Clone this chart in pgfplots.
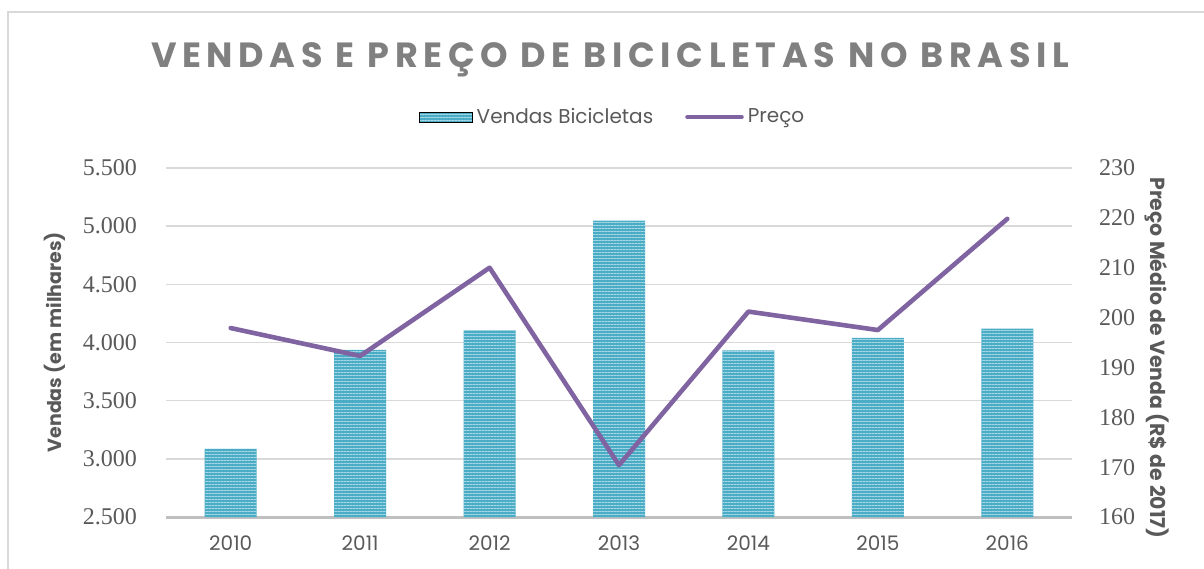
\documentclass[border=0pt]{standalone}
\usepackage{pgfplots}
\pgfplotsset{compat=1.18}
\usepackage{pgfplotstable}
\usepackage{fontspec}
\setmainfont{Poppins}
\newfontfamily\tickfont{Liberation Serif}
\newfontfamily\titlefont{Poppins}[LetterSpace=16]
\usetikzlibrary{patterns.meta}
\definecolor{barblue}{HTML}{4BACC6}
\definecolor{barlight}{HTML}{A8D8E6}
\definecolor{linepurple}{HTML}{8064A2}
\definecolor{txtgray}{HTML}{595959}
\definecolor{titlegray}{HTML}{808080}
\definecolor{gridgray}{HTML}{D9D9D9}
\definecolor{axisgray}{HTML}{BFBFBF}

\pgfplotstableread{
x vendas preco
0 3085 197.9
1 3936 192.3
2 4105 210.0
3 5047 170.4
4 3933 201.2
5 4039 197.5
6 4119 219.8
}\datatable

\begin{document}
\begin{tikzpicture}
\useasboundingbox (-83pt,-25.5pt) rectangle (519pt,258.5pt);
\draw[gridgray, line width=0.8pt] (-79pt,-40pt) -- (-79pt,252.5pt) -- (540pt,252.5pt);
\node[font=\titlefont\bfseries\fontsize{17.5}{20}\selectfont, text=titlegray] at (222pt,228.5pt) {VENDAS E PREÇO DE BICICLETAS NO BRASIL};
\begin{axis}[
  name=ax,
  at={(0,0)}, anchor=south west,
  scale only axis, width=453pt, height=174.5pt,
  xmin=-0.5, xmax=6.5, ymin=2500, ymax=5500,
  ytick={2500,3000,...,5500},
  xtick={0,...,6}, xticklabels={2010,2011,2012,2013,2014,2015,2016},
  axis line style={draw=none},
  tick style={draw=none},
  ymajorgrids,
  grid style={gridgray, line width=0.8pt},
  extra y ticks={2500}, extra y tick labels={},
  extra y tick style={grid style={axisgray, line width=1.5pt}},
  yticklabel style={font=\tickfont\fontsize{12}{14}\selectfont, text=txtgray, xshift=-11pt},
  xticklabel style={font=\fontsize{10}{12}\selectfont, text=txtgray, yshift=-6pt},
  /pgf/number format/1000 sep={.},
  /pgf/number format/assume math mode=true,
  ylabel={Vendas (em milhares)},
  every axis y label/.style={at={(axis description cs:-0.1225,0.501)}, rotate=90, anchor=center, font=\bfseries\fontsize{9.5}{11}\selectfont, text=txtgray},
]
\addplot[ybar, bar width=26pt, fill=barblue, draw=none,
  postaction={pattern={Lines[angle=0,distance=1.5pt,line width=0.5pt]}, pattern color=barlight}]
  table[x=x,y=vendas]{\datatable};
\end{axis}
\begin{axis}[
  at={(0,0)}, anchor=south west,
  scale only axis, width=453pt, height=174.5pt,
  xmin=-0.5, xmax=6.5, ymin=160, ymax=230,
  ytick={160,170,...,230},
  hide x axis,
  axis y line*=right,
  axis line style={draw=none},
  tick style={draw=none},
  yticklabel style={font=\tickfont\fontsize{12}{14}\selectfont, text=txtgray, xshift=10pt},
  /pgf/number format/assume math mode=true,
  ylabel={Preço Médio de Venda (R\$ de 2017)},
  every axis y label/.style={at={(axis description cs:1.0938,0.4556)}, rotate=-90, anchor=center, font=\bfseries\fontsize{10.2}{12}\selectfont, text=txtgray},
  legend style={at={(axis description cs:0.494,1.146)}, anchor=center, draw=none, fill=none,
    legend columns=2, font=\fontsize{10}{12}\selectfont, text=txtgray,
    /tikz/every even column/.append style={column sep=14pt}},
]
\addlegendimage{legend image code/.code={
  \fill[barblue] (0pt,-2.5pt) rectangle (26.5pt,2.5pt);
  \fill[pattern={Lines[angle=0,distance=1.5pt,line width=0.5pt]}, pattern color=barlight] (0pt,-2.5pt) rectangle (26.5pt,2.5pt);}}
\addlegendentry{Vendas Bicicletas}
\addplot[linepurple, line width=2.3pt, line join=round, line cap=round,
  legend image code/.code={\draw[linepurple, line width=2.3pt, line cap=round] (0pt,0pt) -- (27pt,0pt);}]
  table[x=x,y=preco]{\datatable};
\addlegendentry{Preço}
\end{axis}
\end{tikzpicture}
\end{document}
